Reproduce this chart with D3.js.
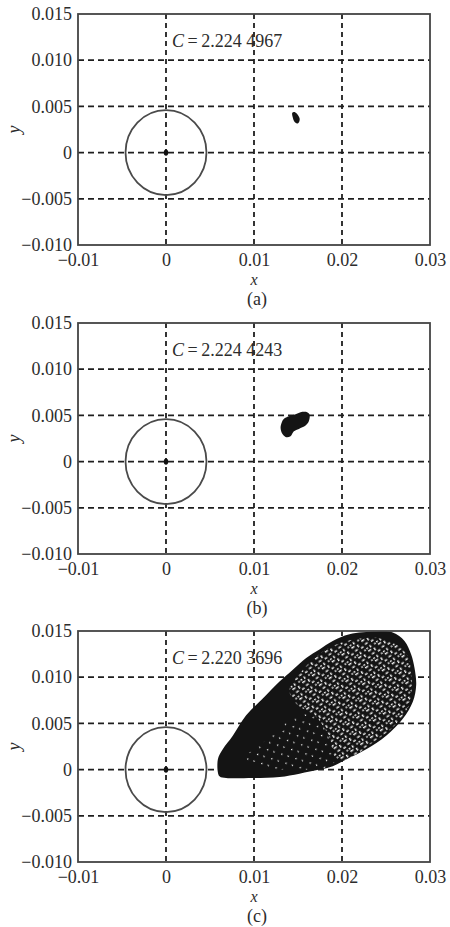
<!DOCTYPE html>
<html>
<head>
<meta charset="utf-8">
<script src="https://cdn.jsdelivr.net/npm/d3@7"></script>
<style>
  body { margin: 0; background: #fff; }
  svg { display: block; }
  text { font-family: "Liberation Serif", "DejaVu Serif", serif; fill: #2c2c2c; }
</style>
</head>
<body>
<svg id="chart" width="450" height="927"></svg>
<script>
// tick values + labels (same for all three panels)
const xTicks = [-0.01, 0, 0.01, 0.02, 0.03]
const xTickLabels = ["\u22120.01", "0", "0.01", "0.02", "0.03"]
const yTicks = [0.015, 0.010, 0.005, 0, -0.005, -0.010]
const yTickLabels = ["0.015", "0.010", "0.005", "0", "\u22120.005", "\u22120.010"]
const xGrid = [0, 0.01, 0.02]
const yGrid = [0.010, 0.005, 0, -0.005]

const cValues = ["2.224 4967", "2.224 4243", "2.220 3696"]
const captions = ["(a)", "(b)", "(c)"]
const circleR = 0.0046

// outline of the point cloud in (a)
const blobA = [[0.01435, 0.00431], [0.01466, 0.00438], [0.01497, 0.00409], [0.01519, 0.00365],
  [0.01511, 0.00328], [0.01489, 0.00314], [0.01458, 0.00336], [0.01443, 0.00372]]

// outline of the point cloud in (b)
const blobB = [[0.01313, 0.00419], [0.01339, 0.00462], [0.01396, 0.00490], [0.01472, 0.00512],
  [0.01529, 0.00534], [0.01604, 0.00534], [0.01631, 0.00509], [0.01623, 0.00436],
  [0.01586, 0.00390], [0.01510, 0.00354], [0.01453, 0.00328], [0.01415, 0.00274],
  [0.01359, 0.00267], [0.01320, 0.00303], [0.01302, 0.00365]]

// outline of the point cloud in (c)
const cloudC = [[0.00589, 0.00110], [0.00608, -0.00073], [0.00684, -0.00091], [0.00986, -0.00091],
  [0.01290, -0.00080], [0.01517, -0.00044], [0.01744, 0.00000], [0.01895, 0.00037],
  [0.02048, 0.00110], [0.02275, 0.00220], [0.02502, 0.00367], [0.02691, 0.00549],
  [0.02805, 0.00733], [0.02843, 0.00916], [0.02824, 0.01099], [0.02786, 0.01246],
  [0.02710, 0.01392], [0.02577, 0.01484], [0.02389, 0.01495], [0.02085, 0.01466],
  [0.01895, 0.01392], [0.01744, 0.01301], [0.01593, 0.01209], [0.01441, 0.01081],
  [0.01290, 0.00953], [0.01100, 0.00769], [0.00911, 0.00587], [0.00759, 0.00367],
  [0.00645, 0.00220]]
// lacy (sparse) upper-right part of the cloud in (c)
const laceC = [[0.01555, 0.01081], [0.01820, 0.01300], [0.02090, 0.01400], [0.02450, 0.01420],
  [0.02720, 0.01270], [0.02790, 0.01000], [0.02760, 0.00690], [0.02590, 0.00470],
  [0.02300, 0.00260], [0.02080, 0.00110], [0.01934, 0.00120], [0.01858, 0.00348],
  [0.01707, 0.00568], [0.01480, 0.00714], [0.01403, 0.00862]]
// lightly speckled middle part in (c)
const speckC = [[0.00911, 0.00129], [0.01176, 0.00348], [0.01403, 0.00532], [0.01668, 0.00604],
  [0.01820, 0.00458], [0.01934, 0.00165], [0.01858, 0.00019], [0.01480, 0.0], [0.01100, 0.00019]]

const clouds = [[blobA], [blobB], [cloudC]]

const svg = d3.select("#chart")
const left = 78, right = 430, boxH = 231
const tops = [14, 323, 631]

const x = d3.scaleLinear().domain([-0.01, 0.03]).range([left, right])

// patterns for the scattered look of cloud (c)
const defs = svg.append("defs")
const lace = defs.append("pattern").attr("id", "lace")
  .attr("patternUnits", "userSpaceOnUse").attr("width", 12).attr("height", 12)
  .attr("patternTransform", "rotate(-35)")
;[[0, 0, 3.5, 1.4], [6, 1, 1.4, 3], [1.5, 4.5, 3, 1.4], [8, 5.5, 2.8, 1.4],
  [4, 8.5, 1.4, 2.6], [9, 9.5, 2, 1.2], [0, 9, 1.8, 1.4]].forEach(r => {
  lace.append("rect").attr("x", r[0]).attr("y", r[1]).attr("width", r[2]).attr("height", r[3]).attr("fill", "#fff")
})
const speck = defs.append("pattern").attr("id", "speck")
  .attr("patternUnits", "userSpaceOnUse").attr("width", 11).attr("height", 10)
  .attr("patternTransform", "rotate(-25)")
speck.append("rect").attr("x", 2).attr("y", 2).attr("width", 1.3).attr("height", 1.2).attr("fill", "#fff")
speck.append("rect").attr("x", 7).attr("y", 6.5).attr("width", 1.1).attr("height", 1.4).attr("fill", "#fff")

tops.forEach((top, i) => {
  const y = d3.scaleLinear().domain([-0.01, 0.015]).range([top + boxH, top])
  const g = svg.append("g")

  // grid
  g.selectAll(".vg").data(xGrid).enter().append("line")
    .attr("x1", d => x(d)).attr("x2", d => x(d))
    .attr("y1", top).attr("y2", top + boxH)
    .attr("stroke", "#1e1e1e").attr("stroke-width", 1.8).attr("stroke-dasharray", "5,4")
  g.selectAll(".hg").data(yGrid).enter().append("line")
    .attr("x1", left).attr("x2", right)
    .attr("y1", d => y(d)).attr("y2", d => y(d))
    .attr("stroke", "#1e1e1e").attr("stroke-width", 1.8).attr("stroke-dasharray", "6,4")

  // circle around origin + centre dot
  g.append("ellipse")
    .attr("cx", x(0)).attr("cy", y(0))
    .attr("rx", x(circleR) - x(0)).attr("ry", y(0) - y(circleR))
    .attr("fill", "none").attr("stroke", "#4a4a4a").attr("stroke-width", 1.8)
  g.append("ellipse").attr("cx", x(0)).attr("cy", y(0)).attr("rx", 2.2).attr("ry", 3.2).attr("fill", "#111")

  // cloud
  const line = d3.line().x(d => x(d[0])).y(d => y(d[1])).curve(d3.curveCatmullRomClosed)
  clouds[i].forEach(c => {
    g.append("path").attr("d", line(c)).attr("fill", "#141414")
  })
  if (i == 2) {
    defs.append("clipPath").attr("id", "cloudClip")
      .append("path").attr("d", line(cloudC))
    g.append("path").attr("d", line(speckC)).attr("fill", "url(#speck)").attr("clip-path", "url(#cloudClip)")
    g.append("path").attr("d", line(laceC)).attr("fill", "url(#lace)").attr("clip-path", "url(#cloudClip)")
  }

  // box
  g.append("rect").attr("x", left).attr("y", top).attr("width", right - left).attr("height", boxH)
    .attr("fill", "none").attr("stroke", "#444").attr("stroke-width", 1.8)

  // axes
  const xa = g.append("g").attr("transform", `translate(0,${top + boxH})`)
    .call(d3.axisBottom(x).tickValues(xTicks).tickSize(0).tickPadding(8)
      .tickFormat((d, j) => xTickLabels[j]))
  const ya = g.append("g").attr("transform", `translate(${left},0)`)
    .call(d3.axisLeft(y).tickValues(yTicks).tickSize(0).tickPadding(6)
      .tickFormat((d, j) => yTickLabels[j]))
  ;[xa, ya].forEach(a => {
    a.select(".domain").remove()
    a.selectAll("text").attr("font-size", 18).attr("font-family", null).attr("fill", "#2c2c2c")
  })

  // C label
  const ct = g.append("text").attr("x", x(0) + 6).attr("y", top + 33).attr("font-size", 18)
  ct.append("tspan").attr("font-style", "italic").text("C")
  ct.append("tspan").text("\u2009=\u2009" + cValues[i])

  // axis titles + caption
  g.append("text").attr("x", x(0.01)).attr("y", top + boxH + 40)
    .attr("text-anchor", "middle").attr("font-size", 16).attr("font-style", "italic").text("x")
  g.append("text").attr("transform", `translate(20,${top + boxH / 2}) rotate(-90)`)
    .attr("text-anchor", "middle").attr("font-size", 18).attr("font-style", "italic").text("y")
  g.append("text").attr("x", x(0.01) + 3).attr("y", top + boxH + 60)
    .attr("text-anchor", "middle").attr("font-size", 18).text(captions[i])
})
</script>
</body>
</html>
